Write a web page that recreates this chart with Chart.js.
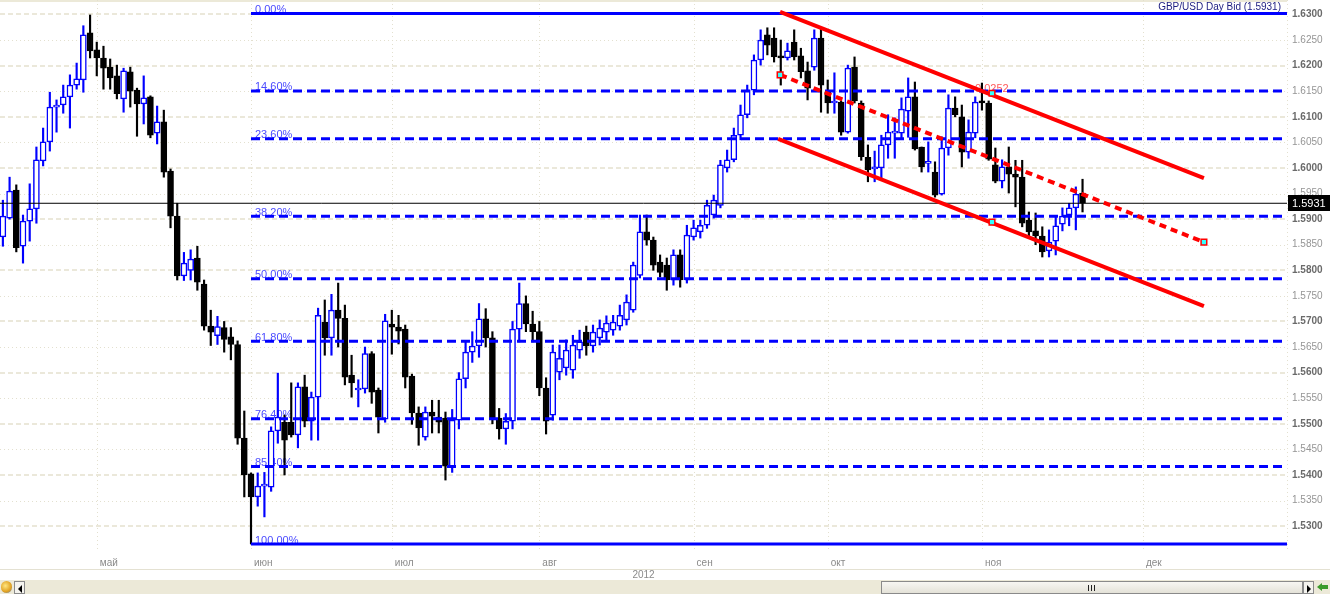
<!DOCTYPE html>
<html>
<head>
<meta charset="utf-8">
<script src="https://cdn.jsdelivr.net/npm/chart.js@4.4.1/dist/chart.umd.min.js"></script>
<style>
  html, body { margin: 0; padding: 0; background: #fff; }
  #wrap { position: relative; width: 1330px; height: 594px; overflow: hidden; font-family: "Liberation Sans", Arial, sans-serif; }
  canvas { display: block; }
  #sb { position: absolute; left: 0; top: 580px; width: 1330px; height: 14px; background: #ece9d8; }
  #sb div { position: absolute; box-sizing: border-box; }
  .btn { top: 1px; width: 11px; height: 13px; border: 1px solid #8a8a8a; background: #f4f3ee; }
  .tri-l { left: 3px; top: 3px; width: 0; height: 0; border-top: 4px solid transparent; border-bottom: 4px solid transparent; border-right: 4px solid #000; }
  .tri-r { left: 3px; top: 3px; width: 0; height: 0; border-top: 4px solid transparent; border-bottom: 4px solid transparent; border-left: 4px solid #000; }
  #thumb { left: 881px; top: 1px; width: 422px; height: 13px; border: 1px solid #8a8a8a; background: linear-gradient(#f7f6f2, #e4e2d8); }
  .grip { top: 3px; width: 1px; height: 6px; background: #222; }
</style>
</head>
<body>
<div id="wrap">
  <canvas id="chart" width="1330" height="580"></canvas>
  <div id="sb">
    <div style="left:1px;top:1px;width:11px;height:12px;border-radius:6px;background:radial-gradient(circle at 40% 40%,#ffe680,#e0a020 60%,#4a7ad0);"></div>
    <div class="btn" style="left:14px"><div class="tri-l"></div></div>
    <div id="thumb"><div class="grip" style="left:206px"></div><div class="grip" style="left:209px"></div><div class="grip" style="left:212px"></div></div>
    <div class="btn" style="left:1303px"><div class="tri-r"></div></div>
    <div style="left:1317px;top:3px;width:0;height:0;border-top:4px solid transparent;border-bottom:4px solid transparent;border-right:5px solid #3a9a2a;"></div>
    <div style="left:1322px;top:5px;width:6px;height:4px;background:#3a9a2a;"></div>
  </div>
</div>
<script>
// trading day numbers, 0 = 1 июн 2012
const firstDay = -37;
const monthNames = ['май', 'июн', 'июл', 'авг', 'сен', 'окт', 'ноя', 'дек'];
const monthStart = [-23, 0, 21, 43, 66, 86, 109, 133];
const yTicks = [1.5300, 1.5350, 1.5400, 1.5450, 1.5500, 1.5550, 1.5600, 1.5650, 1.5700, 1.5750,
  1.5800, 1.5850, 1.5900, 1.5950, 1.6000, 1.6050, 1.6100, 1.6150, 1.6200, 1.6250, 1.6300];

const open = [
  1.5865,1.5902,1.5957,1.5847,1.5896,1.5920,1.6014,1.6051,1.6119,1.6123,
  1.6139,1.6162,1.6172,1.6264,1.6231,1.6215,1.6197,1.6180,1.6135,1.6188,
  1.6152,1.6125,1.6139,1.6068,1.6090,1.5994,1.5906,
  1.5789,1.5800,1.5824,1.5773,1.5691,1.5672,1.5688,1.5670,1.5655,1.5472,
  1.5402,1.5357,1.5378,1.5376,1.5486,1.5503,1.5503,1.5478,1.5572,1.5505,
  1.5552,1.5699,1.5668,1.5722,1.5706,1.5595,1.5566,1.5568,1.5637,1.5566,
  1.5509,1.5695,1.5689,1.5685,1.5593,1.5521,1.5474,1.5523,1.5513,
  1.5511,1.5417,1.5507,1.5588,1.5640,1.5652,1.5705,1.5668,1.5511,1.5490,
  1.5505,1.5685,1.5735,1.5695,1.5680,1.5570,
  1.5517,1.5601,1.5609,1.5605,1.5644,1.5679,1.5652,1.5668,1.5679,1.5683,1.5691,1.5703,
  1.5722,1.5790,1.5875,1.5859,1.5816,1.5810,1.5781,1.5830,1.5781,1.5865,
  1.5875,1.5888,1.5908,1.5927,1.6000,1.6016,1.6064,1.6104,1.6152,1.6211,
  1.6260,
  1.6254,1.6219,1.6215,1.6246,1.6219,1.6190,1.6197,1.6254,1.6148,1.6127,
  1.6129,1.6070,1.6197,1.6127,1.6021,1.5998,1.6000,1.6045,1.6068,1.6068,
  1.6111,1.6139,1.6041,1.6009,1.5992,1.5949,1.6039,1.6117,1.6100,1.6031,
  1.6068,1.6131,1.6127,1.6006,1.5974,1.6002,1.5988,1.5982,1.5898,1.5877,
  1.5867,1.5838,1.5857,1.5890,1.5908,1.5922,1.5951
];
const high = [
  1.5937,1.5982,1.5967,1.5908,1.5969,1.6041,1.6078,1.6148,1.6133,1.6162,
  1.6182,1.6205,1.6278,1.6299,1.6246,1.6238,1.6213,1.6201,1.6195,1.6197,
  1.6156,1.6180,1.6141,1.6121,1.6113,1.5998,1.5931,
  1.5835,1.5840,1.5847,1.5781,1.5722,1.5710,1.5700,1.5688,1.5662,1.5525,
  1.5404,1.5404,1.5405,1.5494,1.5599,1.5517,1.5580,1.5580,1.5595,1.5562,
  1.5726,1.5742,1.5753,1.5775,1.5732,1.5634,1.5586,1.5650,1.5641,1.5570,
  1.5714,1.5722,1.5712,1.5693,1.5597,1.5533,1.5533,1.5546,1.5546,
  1.5523,1.5528,1.5600,1.5660,1.5680,1.5735,1.5725,1.5680,1.5530,1.5520,
  1.5700,1.5775,1.5750,1.5720,1.5700,1.5590,
  1.5654,1.5654,1.5664,1.5673,1.5683,1.5691,1.5693,1.5703,1.5711,1.5712,1.5732,1.5752,
  1.5816,1.5908,1.5908,1.5865,1.5830,1.5824,1.5840,1.5840,1.5888,1.5898,
  1.5898,1.5937,1.5947,1.6015,1.6035,1.6078,1.6123,1.6162,1.6221,1.6270,
  1.6274,
  1.6274,1.6250,1.6244,1.6270,1.6234,1.6207,1.6270,1.6274,1.6172,1.6186,
  1.6131,1.6201,1.6217,1.6131,1.6045,1.6033,1.6064,1.6104,1.6098,1.6137,
  1.6176,1.6168,1.6041,1.6051,1.6012,1.6061,1.6143,1.6139,1.6123,1.6094,
  1.6139,1.6166,1.6131,1.6039,1.6016,1.6041,1.6015,1.6015,1.5914,1.5912,
  1.5885,1.5879,1.5904,1.5922,1.5931,1.5963,1.5978
];
const low = [
  1.5847,1.5900,1.5836,1.5814,1.5857,1.5892,1.6004,1.6033,1.6070,1.6107,
  1.6078,1.6154,1.6148,1.6215,1.6180,1.6154,1.6154,1.6135,1.6109,1.6119,
  1.6062,1.6086,1.6059,1.6047,1.5982,1.5883,1.5781,
  1.5780,1.5781,1.5761,1.5683,1.5653,1.5655,1.5640,1.5625,1.5460,1.5357,
  1.5265,1.5339,1.5318,1.5368,1.5462,1.5400,1.5474,1.5453,1.5494,1.5468,
  1.5468,1.5634,1.5634,1.5650,1.5576,1.5552,1.5533,1.5560,1.5540,1.5482,
  1.5503,1.5636,1.5656,1.5570,1.5499,1.5458,1.5468,1.5482,1.5482,
  1.5390,1.5405,1.5490,1.5570,1.5620,1.5630,1.5650,1.5500,1.5470,1.5460,
  1.5490,1.5660,1.5680,1.5660,1.5555,1.5480,
  1.5507,1.5586,1.5595,1.5589,1.5628,1.5634,1.5640,1.5654,1.5664,1.5673,1.5683,1.5693,
  1.5718,1.5785,1.5849,1.5800,1.5787,1.5761,1.5771,1.5767,1.5775,1.5859,
  1.5863,1.5882,1.5902,1.5922,1.5992,1.6012,1.6055,1.6098,1.6143,1.6201,
  1.6221,
  1.6207,1.6162,1.6211,1.6211,1.6176,1.6133,1.6191,1.6109,1.6107,1.6107,
  1.6064,1.6068,1.6127,1.6015,1.5973,1.5973,1.5980,1.6019,1.6019,1.6059,
  1.6060,1.6035,1.5992,1.5992,1.5943,1.5947,1.6025,1.6100,1.6002,1.6019,
  1.6059,1.6113,1.6015,1.5971,1.5961,1.5951,1.5924,1.5885,1.5865,1.5850,
  1.5826,1.5826,1.5830,1.5877,1.5887,1.5879,1.5914
];
const close = [
  1.5906,1.5955,1.5844,1.5896,1.5920,1.6016,1.6051,1.6119,1.6123,1.6139,
  1.6162,1.6174,1.6260,1.6229,1.6215,1.6195,1.6176,1.6145,1.6190,1.6150,
  1.6125,1.6137,1.6064,1.6090,1.5992,1.5906,1.5789,
  1.5814,1.5822,1.5777,1.5691,1.5679,1.5690,1.5665,1.5655,1.5472,1.5400,
  1.5357,1.5378,1.5380,1.5486,1.5513,1.5468,1.5478,1.5572,1.5505,1.5552,
  1.5712,1.5668,1.5722,1.5706,1.5591,1.5580,1.5570,1.5637,1.5562,1.5513,
  1.5701,1.5689,1.5681,1.5591,1.5521,1.5492,1.5523,1.5515,1.5503,
  1.5417,1.5507,1.5588,1.5640,1.5652,1.5705,1.5668,1.5511,1.5490,1.5505,
  1.5685,1.5735,1.5695,1.5680,1.5570,1.5505,
  1.5640,1.5628,1.5644,1.5654,1.5660,1.5652,1.5679,1.5687,1.5697,1.5699,1.5712,1.5738,
  1.5810,1.5875,1.5859,1.5810,1.5796,1.5781,1.5830,1.5781,1.5869,1.5883,
  1.5888,1.5927,1.5937,1.6006,1.6016,1.6064,1.6104,1.6152,1.6211,1.6250,
  1.6240,
  1.6217,1.6215,1.6229,1.6217,1.6188,1.6156,1.6254,1.6162,1.6127,1.6129,
  1.6070,1.6195,1.6131,1.6022,1.5996,1.6002,1.6045,1.6070,1.6071,1.6115,
  1.6139,1.6037,1.6002,1.6012,1.5947,1.6039,1.6117,1.6104,1.6031,1.6070,
  1.6129,1.6127,1.6017,1.5974,1.6002,1.5988,1.5982,1.5892,1.5875,1.5867,
  1.5836,1.5855,1.5887,1.5906,1.5922,1.5949,1.5931
];

// Fibonacci retracement, from the 1 июн low to the september high
const fibHigh = 1.6302, fibLow = 1.5265, fibStartDay = 0;
const fibRatios = [0, 0.146, 0.236, 0.382, 0.5, 0.618, 0.764, 0.854, 1];
const fibLabels = ['0.00%', '14.60%', '23.60%', '38.20%', '50.00%', '61.80%', '76.40%', '85.40%', '100.00%'];

// channel (day, price)
const chanUpper = [[78.9, 1.6305], [142.1, 1.5980]];
const chanMid = [[78.9, 1.6182], [142.1, 1.5855]];
const chanLower = [[78.6, 1.6057], [142.1, 1.5730]];
const chanMarks = [[110.5, 1.6146], [110.5, 1.5894]];
const chanWidth = '0.0252';

const xMin = -37.43, xMax = 154.49;
const yMin = 1.52494, yMax = 1.63283;
const lastClose = close[close.length - 1];
const blue = '#0000ff';

const days = open.map((o, i) => firstDay + i);
const up = open.map((o, i) => close[i] >= o);

const datasets = [];
datasets.push({
  type: 'bar', data: days.map((d, i) => ({ x: d, y: [Math.min(open[i], close[i]), Math.max(open[i], close[i])] })),
  backgroundColor: up.map(u => u ? '#ffffff' : '#000000'),
  borderColor: up.map(u => u ? blue : '#000000'),
  borderWidth: 1.5, borderSkipped: false, barThickness: 6, minBarLength: 2, grouped: false, order: 5
});
datasets.push({
  type: 'bar', data: days.map((d, i) => ({ x: d, y: [low[i], high[i]] })),
  backgroundColor: up.map(u => u ? blue : '#000000'),
  borderWidth: 0, barThickness: 1.5, grouped: false, order: 6
});
fibRatios.forEach((r, k) => {
  const lvl = fibHigh - r * (fibHigh - fibLow);
  datasets.push({
    type: 'line', data: [{ x: fibStartDay, y: lvl }, { x: xMax, y: lvl }],
    borderColor: blue, borderWidth: 3, borderDash: (r === 0 || r === 1) ? [] : [9, 5],
    pointRadius: 0, order: 3
  });
});
datasets.push({
  type: 'line', data: [{ x: xMin, y: lastClose }, { x: xMax, y: lastClose }],
  borderColor: '#000000', borderWidth: 1, pointRadius: 0, order: 4
});
[chanUpper, chanLower].forEach(c => datasets.push({
  type: 'line', data: c.map(p => ({ x: p[0], y: p[1] })),
  borderColor: '#ff0000', borderWidth: 4, pointRadius: 0, order: 2
}));
datasets.push({
  type: 'line', data: chanMid.map(p => ({ x: p[0], y: p[1] })),
  borderColor: '#ff0000', borderWidth: 4, borderDash: [7, 5], pointRadius: 4, pointStyle: 'rect',
  pointBackgroundColor: '#33ffff', pointBorderColor: '#ff0000', pointBorderWidth: 1.5, order: 2
});
datasets.push({
  type: 'line', showLine: false, data: chanMarks.map(p => ({ x: p[0], y: p[1] })),
  pointRadius: 4, pointStyle: 'rect', pointBackgroundColor: '#33ffff',
  pointBorderColor: '#ff0000', pointBorderWidth: 1.5, order: 1
});

const FONT = '"Liberation Sans", Arial, sans-serif';

const decor = {
  id: 'decor',
  beforeDatasetsDraw(chart) {
    const { ctx, chartArea: a, scales: { x, y } } = chart;
    ctx.save();
    ctx.fillStyle = '#ece9d8';
    ctx.fillRect(0, 0, a.right, 2);
    yTicks.forEach(v => {
      const py = Math.round(y.getPixelForValue(v));
      const major = Math.round(v * 10000) % 100 === 0;
      ctx.beginPath();
      if (major) {
        ctx.strokeStyle = '#ebe8da'; ctx.lineWidth = 2; ctx.setLineDash([5, 3]);
        ctx.moveTo(a.left, py); ctx.lineTo(a.right, py);
      } else {
        ctx.strokeStyle = '#e3e0cf'; ctx.lineWidth = 1; ctx.setLineDash([1, 3]);
        ctx.moveTo(a.left, py + 0.5); ctx.lineTo(a.right, py + 0.5);
      }
      ctx.stroke();
    });
    ctx.strokeStyle = '#e3e0cf'; ctx.lineWidth = 1; ctx.setLineDash([1, 3]);
    monthStart.concat([xMax]).forEach(d => {
      const px = Math.min(Math.round(x.getPixelForValue(d)), a.right) + 0.5;
      ctx.beginPath(); ctx.moveTo(px, a.top); ctx.lineTo(px, a.bottom); ctx.stroke();
    });
    ctx.setLineDash([]);
    // fib labels, under the candles
    ctx.font = '11px ' + FONT;
    ctx.fillStyle = '#4b4bff';
    ctx.textBaseline = 'alphabetic';
    const fx = x.getPixelForValue(fibStartDay) + 4;
    fibRatios.forEach((r, k) => {
      const py = y.getPixelForValue(fibHigh - r * (fibHigh - fibLow));
      ctx.fillText(fibLabels[k], fx, py - 0.5);
    });
    // channel width label
    ctx.fillStyle = '#ff5a5a';
    ctx.fillText(chanWidth, x.getPixelForValue(chanMarks[0][0]) - 17, y.getPixelForValue(chanMarks[0][1]) - 1);
    ctx.restore();
  },
  afterDraw(chart) {
    const { ctx, chartArea: a, scales: { x, y } } = chart;
    ctx.save();
    ctx.textBaseline = 'middle';
    yTicks.forEach(v => {
      const major = Math.round(v * 10000) % 100 === 0;
      ctx.font = (major ? 'bold ' : '') + '10px ' + FONT;
      ctx.fillStyle = major ? '#6a6a6a' : '#959595';
      ctx.fillText(v.toFixed(4), a.right + 5, y.getPixelForValue(v));
    });
    const py = Math.round(y.getPixelForValue(lastClose));
    ctx.fillStyle = '#000';
    ctx.fillRect(a.right + 1, py - 8, 43, 16);
    ctx.fillStyle = '#fff';
    ctx.font = '11px ' + FONT;
    ctx.fillText(lastClose.toFixed(4), a.right + 5, py + 0.5);
    ctx.font = '10px ' + FONT;
    ctx.fillStyle = '#8a8a8a';
    monthNames.forEach((m, k) => {
      ctx.fillText(m, x.getPixelForValue(monthStart[k]) + 3, a.bottom + 11);
    });
    ctx.textAlign = 'center';
    ctx.fillText('2012', (a.left + a.right) / 2, a.bottom + 23);
    ctx.fillStyle = '#e4e1d2';
    ctx.fillRect(0, a.bottom + 17, a.right + 43, 1);
    ctx.textAlign = 'right';
    ctx.fillStyle = '#1c1c80';
    ctx.fillText('GBP/USD Day Bid (' + lastClose.toFixed(4) + ')', a.right - 6, 7);
    ctx.restore();
  }
};

new Chart(document.getElementById('chart'), {
  type: 'bar',
  data: { datasets },
  options: {
    responsive: false, animation: false, devicePixelRatio: 1, events: [],
    layout: { autoPadding: false, padding: { left: 0, top: 0, right: 43, bottom: 28 } },
    plugins: { legend: { display: false }, tooltip: { enabled: false } },
    scales: {
      x: { type: 'linear', min: xMin, max: xMax, offset: false, display: false },
      y: { type: 'linear', min: yMin, max: yMax, display: false }
    }
  },
  plugins: [decor]
});
</script>
</body>
</html>
